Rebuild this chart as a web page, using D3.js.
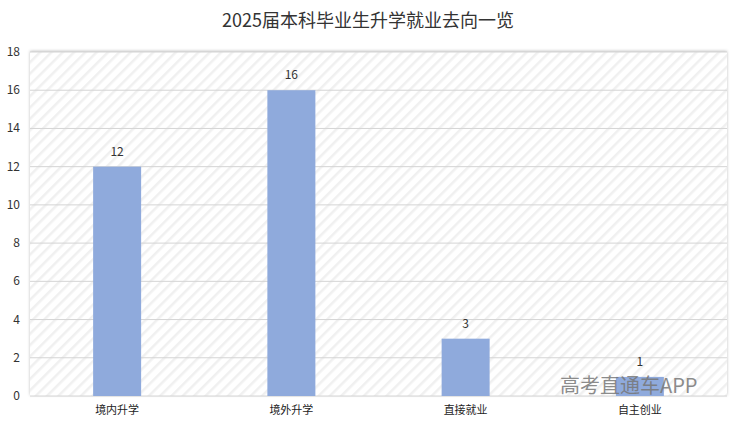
<!DOCTYPE html><html><head><meta charset="utf-8">
<script src="https://cdn.jsdelivr.net/npm/d3@7"></script>
<style>body{margin:0;background:#fff;font-family:"Noto Sans CJK SC","Noto Sans",sans-serif}</style></head><body>
<svg id="c" width="737" height="426"></svg>
<script>
const categories=["境内升学","境外升学","直接就业","自主创业"];
const values=[12,16,3,1];
const yTicks=[0,2,4,6,8,10,12,14,16,18];
const title="2025届本科毕业生升学就业去向一览";
const svg=d3.select("#c");
const L=30,R=727,T=52,B=396;
const defs=svg.append("defs");
const p=defs.append("pattern").attr("id","h").attr("patternUnits","userSpaceOnUse").attr("width",8).attr("height",8).attr("patternTransform","rotate(45)");
p.append("rect").attr("width",8).attr("height",8).attr("fill","#fff");
p.append("rect").attr("width",2.5).attr("height",8).attr("fill","#f0f0f0");
const f=defs.append("filter").attr("id","s").attr("x","-5%").attr("y","-5%").attr("width","110%").attr("height","110%");
f.append("feDropShadow").attr("dx",0).attr("dy",-1).attr("stdDeviation",1.5).attr("flood-color","#000").attr("flood-opacity",0.25);
svg.append("rect").attr("x",L).attr("y",T).attr("width",R-L).attr("height",B-T).attr("fill","url(#h)").attr("filter","url(#s)");
const x=d3.scaleBand().domain(categories).range([L,R]);
const y=d3.scaleLinear().domain([0,18]).range([B,T]);
svg.append("g").selectAll("line").data(yTicks).join("line").attr("x1",L).attr("x2",R).attr("y1",d=>y(d)).attr("y2",d=>y(d)).attr("stroke","#d4d4d4");
svg.append("g").selectAll("text").data(yTicks).join("text").attr("x",20).attr("y",d=>y(d)+4).attr("text-anchor","end").attr("font-size",12).attr("fill","#333").text(d=>d);
const bw=48;
svg.append("g").selectAll("rect").data(values).join("rect").attr("x",(d,i)=>x(categories[i])+x.bandwidth()/2-bw/2).attr("width",bw).attr("y",d=>y(d)).attr("height",d=>B-y(d)).attr("fill","#8faadc");
svg.append("g").selectAll("text").data(values).join("text").attr("x",(d,i)=>x(categories[i])+x.bandwidth()/2).attr("y",d=>y(d)-11).attr("text-anchor","middle").attr("font-size",12).attr("fill","#333").text(d=>d);
svg.append("g").selectAll("text").data(categories).join("text").attr("x",d=>x(d)+x.bandwidth()/2).attr("y",414).attr("text-anchor","middle").attr("font-size",11).attr("fill","#222").text(d=>d);
svg.append("text").attr("x",368).attr("y",27).attr("text-anchor","middle").attr("font-size",18).attr("fill","#333").text(title);
svg.append("text").attr("x",560).attr("y",393).attr("font-size",20).attr("fill","#777").attr("fill-opacity",0.85).text("高考直通车APP");
</script></body></html>
